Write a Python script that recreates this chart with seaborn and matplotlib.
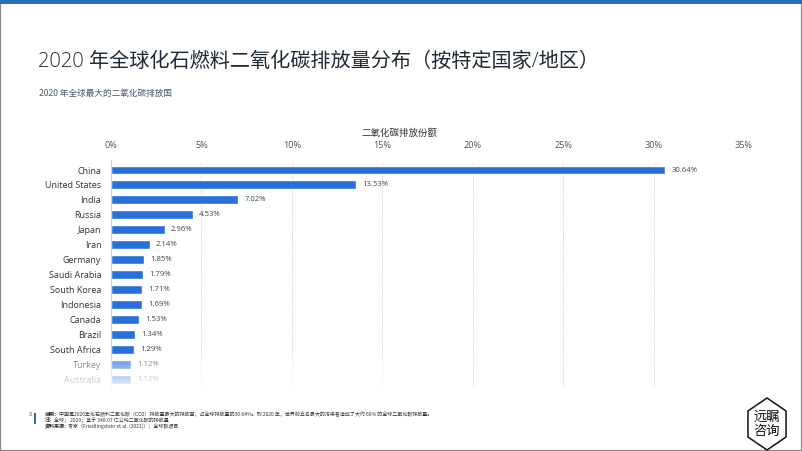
import numpy as np
import pandas as pd
import matplotlib
matplotlib.use("Agg")
import matplotlib.pyplot as plt
from matplotlib.patches import Rectangle, Polygon
import seaborn as sns

countries = ["China", "United States", "India", "Russia", "Japan", "Iran", "Germany",
             "Saudi Arabia", "South Korea", "Indonesia", "Canada", "Brazil",
             "South Africa", "Turkey", "Australia"]
shares = [30.64, 13.53, 7.02, 4.53, 2.96, 2.14, 1.85, 1.79, 1.71, 1.69, 1.53, 1.34,
          1.29, 1.12, 1.12]
xticks = [0, 5, 10, 15, 20, 25, 30, 35]

title = "2020 年全球化石燃料二氧化碳排放量分布（按特定国家/地区）"
subtitle = "2020 年全球最大的二氧化碳排放国"
xlabel = "二氧化碳排放份额"
notes = [("说明：", "中国是2020年化石燃料二氧化碳（CO2）排放量最大的排放国，占全球排放量的30.64%。到 2020 年，世界前五名最大的污染者造成了大约 60% 的全球二氧化碳排放量。"),
         ("注：", "全球； 2020；基于 348.07 亿公吨二氧化碳的排放量"),
         ("资料来源：", "专家（Friedlingstein et al. (2021)）；全球碳项目")]

sns.set_theme(style="white")
FAM = ["Open Sans", "Noto Sans CJK SC", "DejaVu Sans"]
CJK = ["Noto Sans CJK SC", "DejaVu Sans"]
plt.rcParams["font.family"] = FAM

W, H = 802, 451
fig = plt.figure(figsize=(W / 100, H / 100), dpi=100)

def fx(px):
    return px / W

def fy(py):
    return 1 - py / H

ax = fig.add_axes([fx(111), fy(388), fx(744) - fx(111), fy(160) - fy(388)])
df = pd.DataFrame({"country": countries, "share": shares})
bar_color = "#2870d9"
sns.barplot(data=df, x="share", y="country", orient="h", color=bar_color,
            width=0.6, ax=ax, saturation=1)
ax.set_xlim(0, 35)
ax.set_ylim(14.6, -0.67)
ax.xaxis.tick_top()
ax.set_xticks(xticks)
ax.set_xticklabels([f"{t}%" for t in xticks], fontsize=6.6, color="#555555")
ax.tick_params(axis="x", length=0, pad=7)
ax.tick_params(axis="y", length=0, pad=7, labelsize=6.5, labelcolor="#333333")
ax.set_xlabel("")
ax.set_ylabel("")
for t in xticks[1:]:
    ax.axvline(t, color="#c8c8c8", lw=0.7, ls=(0, (1, 1.5)), zorder=0)
for s in ["top", "right", "bottom"]:
    ax.spines[s].set_visible(False)
ax.spines["left"].set_color("#d0d0d0")
ax.spines["left"].set_linewidth(0.8)
for i, v in enumerate(shares):
    ax.text(v + 0.35, i, f"{v:.2f}%", va="center", ha="left", fontsize=5.6,
            color="#444444")

# fade overlay at the bottom
fade = fig.add_axes([fx(40), fy(390), fx(420) - fx(40), fy(354) - fy(390)], zorder=10)
n = 100
grad = np.ones((n, 1, 4))
grad[:, 0, 3] = 0.15 + 0.8 * np.linspace(0, 1, n) ** 0.9
grad[:8, 0, 3] = np.linspace(0, 0.2, 8)
fade.imshow(grad, aspect="auto", extent=[0, 1, 0, 1], origin="upper")
fade.set_axis_off()
fade.patch.set_alpha(0)

# titles
fig.text(fx(38), fy(62), title, fontsize=14.5, color="#1f2a38", va="center",
         ha="left", family=FAM, fontweight="light")
fig.text(fx(39), fy(93), subtitle, fontsize=6.2, color="#4a5a70", va="center",
         ha="left", family=CJK)
fig.text(fx(400), fy(133), xlabel, fontsize=6.8, color="#333333", va="center",
         ha="center", family=CJK)

# frame and top line
fig.add_artist(Rectangle((0, 0), 1, 1, transform=fig.transFigure, fill=False,
                         edgecolor="#8a8a8a", lw=1.6))
fig.add_artist(Rectangle((0, fy(4)), 1, fy(0) - fy(4), transform=fig.transFigure,
                         facecolor="#2f6db3", edgecolor="none"))

# footnotes
fig.add_artist(Rectangle((fx(34), fy(424)), fx(2), fy(413) - fy(424),
                         transform=fig.transFigure, facecolor="#2f6db3",
                         edgecolor="none"))
fig.text(fx(30), fy(414), "3", fontsize=3.6, color="#333333", va="center", ha="center")
ys = [414, 420, 426]
offs = [14, 9, 23]
for (b, r), y, o in zip(notes, ys, offs):
    fig.text(fx(45), fy(y), b, fontsize=3.6, color="#222222", va="center",
             ha="left", family=CJK, fontweight="bold")
    fig.text(fx(45 + o), fy(y), r, fontsize=3.6, color="#333333", va="center",
             ha="left", family=CJK)

# logo
cx, cy, rx, ry = 767, 424, 22, 26
pts = []
for k in range(6):
    a = np.deg2rad(90 + 60 * k)
    pts.append((fx(cx + rx * np.cos(a)), fy(cy - ry * np.sin(a))))
fig.add_artist(Polygon(pts, closed=True, transform=fig.transFigure,
                       facecolor="white", edgecolor="#111111", lw=1.1))
fig.text(fx(cx), fy(cy - 7), "远瞩", fontsize=9.5, ha="center", va="center",
         family=CJK, color="#111111")
fig.text(fx(cx), fy(cy + 7), "咨询", fontsize=9.5, ha="center", va="center",
         family=CJK, color="#111111")

fig.savefig("out.png", dpi=100, facecolor="white")
